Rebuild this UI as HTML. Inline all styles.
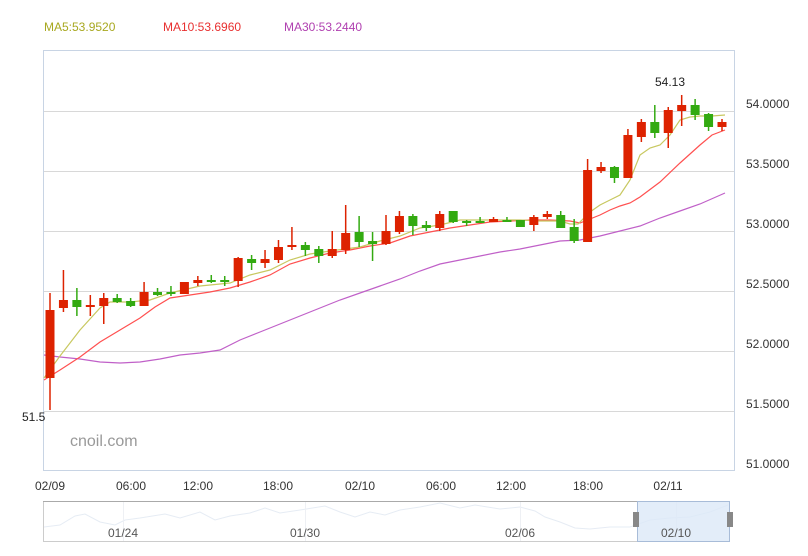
<!DOCTYPE html>
<html><head><meta charset="utf-8"><style>
body{margin:0;background:#fff;width:808px;height:551px;overflow:hidden;font-family:"Liberation Sans",sans-serif}
svg text{font-family:"Liberation Sans",sans-serif}
</style></head><body>
<svg width="808" height="551" xmlns="http://www.w3.org/2000/svg">
<g font-size="12">
<text x="44" y="31" fill="#a8a820">MA5:53.9520</text>
<text x="163" y="31" fill="#e83030">MA10:53.6960</text>
<text x="284" y="31" fill="#b040b0">MA30:53.2440</text>
</g>
<g stroke="#d8d8d8" stroke-width="1">
<line x1="43" y1="111.5" x2="735" y2="111.5"/><line x1="43" y1="171.5" x2="735" y2="171.5"/>
<line x1="43" y1="231.5" x2="735" y2="231.5"/><line x1="43" y1="291.5" x2="735" y2="291.5"/>
<line x1="43" y1="351.5" x2="735" y2="351.5"/><line x1="43" y1="411.5" x2="735" y2="411.5"/>
</g>
<rect x="43.5" y="50.5" width="691" height="420" fill="none" stroke="#c8d4e4"/>
<g font-size="12" fill="#333">
<text x="746" y="108">54.0000</text><text x="746" y="168">53.5000</text><text x="746" y="228">53.0000</text>
<text x="746" y="288">52.5000</text><text x="746" y="348">52.0000</text><text x="746" y="408">51.5000</text><text x="746" y="468">51.0000</text>
</g>
<g font-size="12" fill="#333" text-anchor="middle">
<text x="50" y="490">02/09</text><text x="131" y="490">06:00</text><text x="198" y="490">12:00</text><text x="278" y="490">18:00</text>
<text x="360" y="490">02/10</text><text x="441" y="490">06:00</text><text x="511" y="490">12:00</text><text x="588" y="490">18:00</text><text x="668" y="490">02/11</text>
</g>
<text x="70" y="446" font-size="16" fill="#999">cnoil.com</text>
<text x="22" y="421" font-size="12" fill="#222">51.5</text>
<text x="655" y="86" font-size="12" fill="#222">54.13</text>
<g fill="none" stroke-width="1.2">
<polyline stroke="#c060c8" points="44,355 60,357 80,359 100,362 120,363 140,362 160,359 180,355 200,353 220,350 240,340 260,332 280,324 300,316 320,308 340,300 360,293 380,286 400,279 420,271 440,264 460,260 480,256 500,252 520,249 540,245 560,241 580,240 600,236 620,231 640,226 660,218 680,211 700,204 725,193"/>
<polyline stroke="#ff5050" points="44,380 60,370 80,357 100,342 120,330 140,318 155,307 170,298 190,295 210,292 230,288 250,282 270,275 290,264 310,258 330,253 350,250 370,246 390,243 410,236 430,232 450,228 470,225 490,222 510,221 530,220 550,220 570,221 580,223 590,219 600,215 610,210 620,206 630,203 640,197 660,182 680,163 700,145 712,135 725,130"/>
<polyline stroke="#c8c860" points="44,378 60,356 80,330 100,308 110,302 130,302 150,300 170,293 200,286 230,283 250,275 270,270 290,260 310,254 330,251 345,249 360,247 380,241 400,236 420,228 440,225 460,220 480,220 500,220 520,220 540,221 560,221 570,224 578,224 590,212 600,205 610,200 620,195 630,180 640,155 650,148 660,145 670,135 680,120 690,117 700,116 712,116 725,115"/>
</g>
<g id="c"></g>
<rect x="43.5" y="501.5" width="686" height="40" fill="none" stroke="#ccc"/>
<line x1="43" y1="501.5" x2="730" y2="501.5" stroke="#aaa"/>
<polyline fill="none" stroke="#e6ecf4" points="44,527 60,525 75,516 85,514 100,522 115,525 125,520 140,518 165,514 180,518 200,512 215,520 230,516 250,513 265,508 280,513 300,510 325,506 340,512 355,517 370,512 385,515 400,510 420,507 440,503 460,508 475,505 500,509 520,507 535,511 545,517 560,522 575,528 590,529 610,527 630,527 650,520 670,518 690,517 710,512 728,505"/>
<g stroke="#eef0f4"><line x1="123.5" y1="502" x2="123.5" y2="541"/><line x1="305.5" y1="502" x2="305.5" y2="541"/><line x1="520.5" y1="502" x2="520.5" y2="541"/><line x1="676.5" y1="502" x2="676.5" y2="541"/></g>
<rect x="637.5" y="501.5" width="92" height="40" fill="#dce8f8" fill-opacity="0.8" stroke="#a8bcd8"/>
<rect x="633" y="512" width="6" height="15" fill="#888"/><rect x="727" y="512" width="6" height="15" fill="#888"/>
<g font-size="12" fill="#555" text-anchor="middle">
<text x="123" y="537">01/24</text><text x="305" y="537">01/30</text><text x="520" y="537">02/06</text><text x="676" y="537">02/10</text>
</g>
</svg>
<script>
var d=[[310,378,293,410,1],[300,308,270,312,1],[300,307,288,316,0],[305,307,295,316,1],[298,306,293,324,1],[298,302,294,303,0],[301,306,298,307,0],[292,306,282,306,1],[292,295,288,296,0],[292,294,286,296,0],[282,294,282,294,1],[280,283,276,286,1],[280,281,275,283,0],[280,281,276,286,0],[258,281,257,287,1],[259,263,255,270,0],[259,263,250,268,1],[247,260,240,263,1],[245,247,227,250,1],[245,250,242,256,0],[249,256,246,263,0],[249,256,231,258,1],[233,250,205,254,1],[232,242,216,247,0],[241,244,232,261,0],[231,244,215,245,1],[216,232,211,234,1],[216,226,214,235,0],[225,228,221,231,0],[214,228,211,231,1],[211,222,211,223,0],[221,222,220,226,0],[221,222,217,223,0],[219,222,217,222,1],[220,221,217,222,0],[220,227,220,227,0],[217,225,215,231,1],[214,217,211,219,1],[215,228,211,228,0],[227,241,219,243,0],[170,242,159,242,1],[167,171,162,173,1],[167,178,166,183,0],[135,178,129,178,1],[122,137,119,142,1],[122,133,105,138,0],[110,133,107,148,1],[105,111,95,126,1],[105,115,99,120,0],[114,127,113,131,0],[122,127,119,131,1]];
var g=document.getElementById('c'),s='';
d.forEach(function(c,i){var x=50+i*13.44,col=c[4]?'#dd2200':'#33aa11';
s+='<line x1="'+x+'" y1="'+c[2]+'" x2="'+x+'" y2="'+c[3]+'" stroke="'+col+'" stroke-width="1.5"/>';
s+='<rect x="'+(x-4.5)+'" y="'+c[0]+'" width="9" height="'+Math.max(2,c[1]-c[0])+'" fill="'+col+'"/>';});
g.innerHTML=s;
</script>
</body></html>
